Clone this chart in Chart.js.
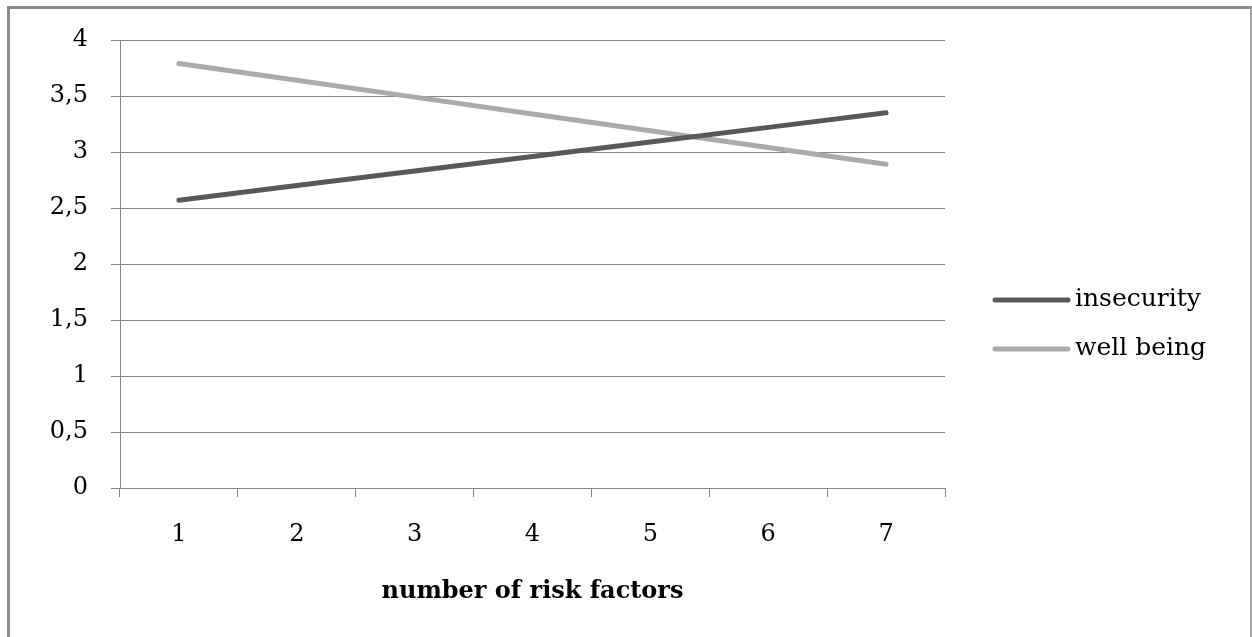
<!DOCTYPE html>
<html lang="en">
<head>
    <meta charset="UTF-8">
    <title>Risk factors</title>
    <script src="https://cdn.jsdelivr.net/npm/chart.js"></script>
    <style>
        body {
            margin: 0;
            background: #fff;
        }

        .frame {
            position: absolute;
            left: 7px;
            top: 6px;
            width: 1240px;
            height: 640px;
            border-left: 3px solid #8a8a8a;
            border-top: 3px solid #8a8a8a;
            border-right: 2px solid #a0a0a0;
        }

        #riskChart {
            position: absolute;
            left: 0;
            top: 0;
        }
    </style>
</head>
<body>
    <div class="frame"></div>
    <canvas id="riskChart" width="1252" height="637"></canvas>

    <script>
        const riskFactors = ['1', '2', '3', '4', '5', '6', '7'];
        const insecurity = [2.57, 2.70, 2.83, 2.96, 3.09, 3.22, 3.35];
        const wellBeing = [3.79, 3.64, 3.49, 3.34, 3.19, 3.04, 2.89];
        const yTicks = [0, 0.5, 1, 1.5, 2, 2.5, 3, 3.5, 4];

        const serif = 'DejaVu Serif';
        const gridColor = '#878787';

        // legend on the right, line sample + label
        const sideLegend = {
            id: 'sideLegend',
            afterDraw(chart) {
                const ctx = chart.ctx;
                const area = chart.chartArea;
                const x0 = area.right + 50;
                const x1 = x0 + 73;
                chart.data.datasets.forEach(function (ds, i) {
                    const y = area.top + 260 + i * 49;
                    ctx.save();
                    ctx.strokeStyle = ds.borderColor;
                    ctx.lineWidth = 5;
                    ctx.lineCap = 'round';
                    ctx.beginPath();
                    ctx.moveTo(x0, y);
                    ctx.lineTo(x1, y);
                    ctx.stroke();
                    ctx.fillStyle = '#000';
                    ctx.font = '25px "' + serif + '"';
                    ctx.textBaseline = 'middle';
                    ctx.fillText(ds.label, x1 + 7, y - 1);
                    ctx.restore();
                });
            }
        };

        new Chart(document.getElementById('riskChart'), {
            type: 'line',
            data: {
                labels: riskFactors,
                datasets: [{
                    label: 'insecurity',
                    data: insecurity,
                    borderColor: '#595959',
                    borderWidth: 5,
                    pointRadius: 0,
                    borderCapStyle: 'round',
                    tension: 0
                }, {
                    label: 'well being',
                    data: wellBeing,
                    borderColor: '#ababab',
                    borderWidth: 5,
                    pointRadius: 0,
                    borderCapStyle: 'round',
                    tension: 0
                }]
            },
            options: {
                responsive: false,
                animation: false,
                layout: {
                    padding: { left: 10, top: 40, right: 307, bottom: 31 }
                },
                plugins: {
                    legend: { display: false },
                    tooltip: { enabled: false }
                },
                scales: {
                    x: {
                        offset: true,
                        grid: {
                            offset: true,
                            drawOnChartArea: false,
                            color: gridColor,
                            tickLength: 9
                        },
                        border: { color: gridColor, width: 1 },
                        ticks: {
                            color: '#000',
                            padding: 23,
                            font: { family: serif, size: 24 }
                        },
                        title: {
                            display: true,
                            text: 'number of risk factors',
                            color: '#000',
                            padding: 0,
                            font: { family: serif, size: 24, weight: 'bold' }
                        },
                        afterFit(scale) {
                            scale.height = 118;
                        }
                    },
                    y: {
                        min: 0,
                        max: 4,
                        afterBuildTicks(scale) {
                            scale.ticks = yTicks.map(v => ({ value: v }));
                        },
                        grid: {
                            color: gridColor,
                            tickLength: 9
                        },
                        border: { color: gridColor, width: 1 },
                        ticks: {
                            color: '#000',
                            padding: 23,
                            font: { family: serif, size: 24 },
                            callback: v => String(v).replace('.', ',')
                        },
                        afterFit(scale) {
                            scale.width = 110;
                        }
                    }
                }
            },
            plugins: [sideLegend]
        });
    </script>
</body>
</html>
